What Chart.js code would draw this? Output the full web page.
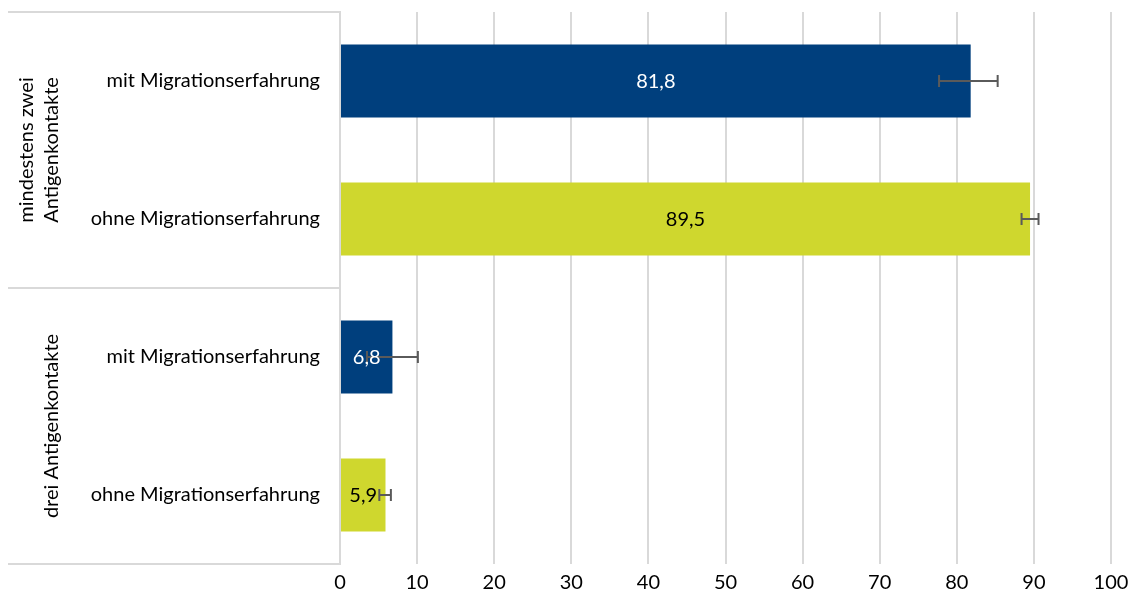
<!DOCTYPE html>
<html>
<head>
<meta charset="utf-8">
<script src="https://cdn.jsdelivr.net/npm/chart.js@4/dist/chart.umd.min.js"></script>
<style>
html,body{margin:0;padding:0;background:#fff;}
#wrap{width:1132px;height:600px;position:relative;}
</style>
</head>
<body>
<div id="wrap"><canvas id="c" width="1132" height="600"></canvas></div>
<script>
const categories = ['mit Migrationserfahrung', 'ohne Migrationserfahrung', 'mit Migrationserfahrung', 'ohne Migrationserfahrung'];
const groupLabels = [['mindestens zwei', 'Antigenkontakte'], ['drei Antigenkontakte']];
const groupRanges = [[0, 1], [2, 3]];
const values = [81.8, 89.5, 6.8, 5.9];
const ciLower = [77.7, 88.4, 3.5, 5.1];
const ciUpper = [85.3, 90.6, 10.1, 6.6];
const barColors = ['#003f7d', '#cfd72e', '#003f7d', '#cfd72e'];
const labelColors = ['#ffffff', '#000000', '#ffffff', '#000000'];

const FONT = 'Lato, "Noto Sans", sans-serif';
const FS = 20;
const gridCol = '#d9d9d9';

const extras = {
  id: 'extras',
  afterDatasetsDraw(chart) {
    const ctx = chart.ctx;
    const x = chart.scales.x;
    const meta = chart.getDatasetMeta(0);
    ctx.save();
    ctx.strokeStyle = '#5a5a5a';
    ctx.lineWidth = 2;
    values.forEach((v, i) => {
      const yc = meta.data[i].y;
      const x1 = x.getPixelForValue(ciLower[i]);
      const x2 = x.getPixelForValue(ciUpper[i]);
      ctx.beginPath();
      ctx.moveTo(x1, yc); ctx.lineTo(x2, yc);
      ctx.moveTo(x1, yc - 6); ctx.lineTo(x1, yc + 6);
      ctx.moveTo(x2, yc - 6); ctx.lineTo(x2, yc + 6);
      ctx.stroke();
    });
    ctx.font = FS + 'px ' + FONT;
    ctx.textAlign = 'center';
    ctx.textBaseline = 'middle';
    values.forEach((v, i) => {
      const bar = meta.data[i];
      const xc = (bar.base + bar.x) / 2;
      ctx.fillStyle = labelColors[i];
      ctx.fillText(v.toFixed(1).replace('.', ','), xc, bar.y + 1);
    });
    ctx.restore();
  },
  afterDraw(chart) {
    const ctx = chart.ctx;
    const y = chart.scales.y;
    const left = 8;
    const right = chart.chartArea.left;
    const half = (y.getPixelForValue(1) - y.getPixelForValue(0)) / 2;
    ctx.save();
    ctx.strokeStyle = gridCol;
    ctx.lineWidth = 2;
    const bounds = [y.getPixelForValue(0) - half, y.getPixelForValue(1) + half, y.getPixelForValue(3) + half];
    bounds.forEach(b => {
      ctx.beginPath();
      ctx.moveTo(left, b); ctx.lineTo(right, b);
      ctx.stroke();
    });
    ctx.fillStyle = '#000';
    ctx.font = FS + 'px ' + FONT;
    ctx.textAlign = 'center';
    ctx.textBaseline = 'alphabetic';
    groupLabels.forEach((lines, g) => {
      const yc = (y.getPixelForValue(groupRanges[g][0]) + y.getPixelForValue(groupRanges[g][1])) / 2;
      const n = lines.length;
      lines.forEach((t, k) => {
        const bx = 58 - (n - 1 - k) * 25;
        ctx.save();
        ctx.translate(bx, yc);
        ctx.rotate(-Math.PI / 2);
        ctx.fillText(t, 0, 0);
        ctx.restore();
      });
    });
    ctx.restore();
  }
};

new Chart(document.getElementById('c'), {
  type: 'bar',
  data: {
    labels: categories,
    datasets: [{
      data: values,
      backgroundColor: barColors,
      borderWidth: 0,
      categoryPercentage: 1,
      barPercentage: 0.53
    }]
  },
  options: {
    indexAxis: 'y',
    responsive: false,
    animation: false,
    devicePixelRatio: 1,
    layout: { padding: { left: 8, right: 21, top: 12, bottom: 0 } },
    plugins: { legend: { display: false }, tooltip: { enabled: false } },
    scales: {
      x: {
        min: 0, max: 100,
        ticks: { stepSize: 10, color: '#000', font: { family: FONT, size: FS }, padding: 7 },
        grid: { color: gridCol, lineWidth: 2, drawTicks: false },
        border: { display: false },
        afterFit(s) { s.height = 36; s.paddingLeft = 0; s.paddingRight = 0; }
      },
      y: {
        ticks: { color: '#000', font: { family: FONT, size: FS }, padding: 20 },
        grid: { display: false, drawTicks: false },
        border: { display: true, color: gridCol, width: 2 },
        afterFit(s) { s.width = 332; s.paddingTop = 0; s.paddingBottom = 0; }
      }
    }
  },
  plugins: [extras]
});
</script>
</body>
</html>
